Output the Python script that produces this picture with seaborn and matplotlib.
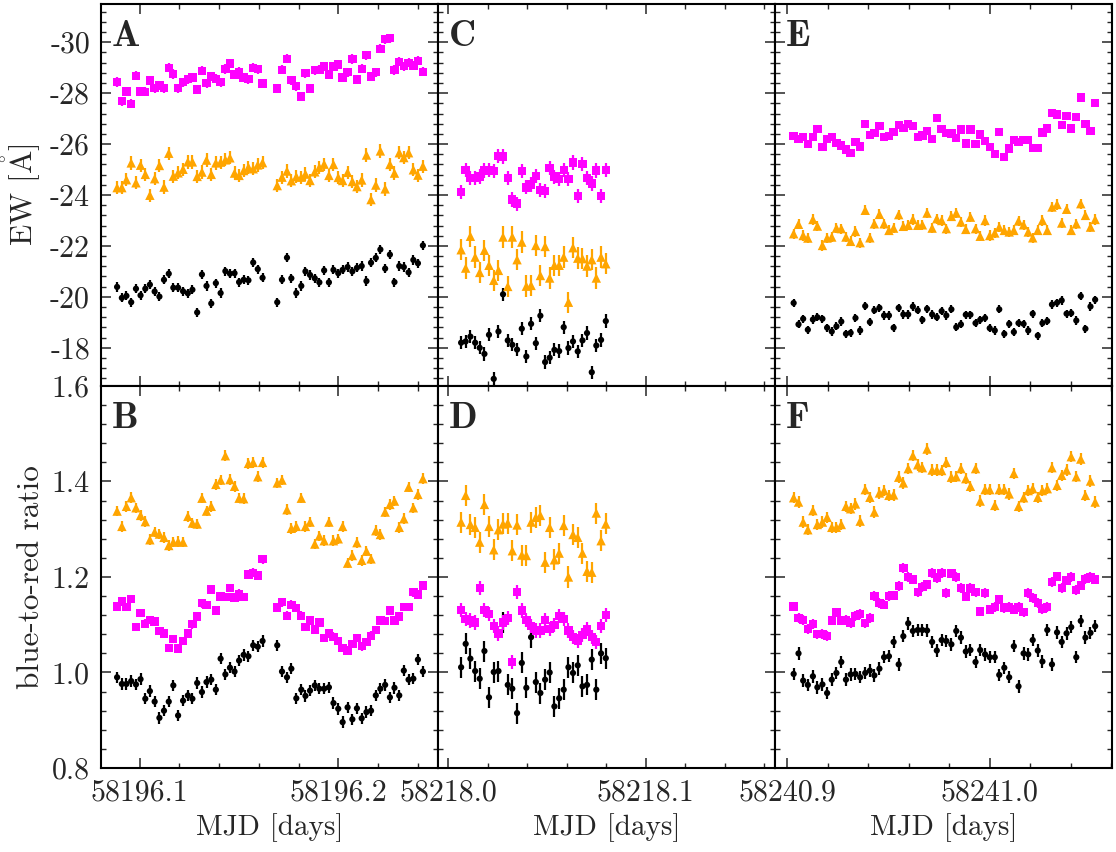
import matplotlib
matplotlib.use("Agg")
import matplotlib.pyplot as plt
import numpy as np
import pandas as pd
import seaborn as sns
from matplotlib.ticker import MultipleLocator, AutoMinorLocator, FormatStrFormatter

# ---------------- data ----------------
t_A = [58196.0887, 58196.0911, 58196.0934, 58196.0958, 58196.0982, 58196.1005, 58196.1029, 58196.1052,
       58196.1076, 58196.1100, 58196.1123, 58196.1147, 58196.1170, 58196.1194, 58196.1219, 58196.1243,
       58196.1266, 58196.1290, 58196.1314, 58196.1337, 58196.1361, 58196.1384, 58196.1408, 58196.1432,
       58196.1455, 58196.1478, 58196.1501, 58196.1524, 58196.1548, 58196.1572, 58196.1595, 58196.1619,
       58196.1693, 58196.1717, 58196.1742, 58196.1764, 58196.1789, 58196.1814, 58196.1835, 58196.1858,
       58196.1882, 58196.1905, 58196.1929, 58196.1953, 58196.1976, 58196.2000, 58196.2022, 58196.2047,
       58196.2071, 58196.2094, 58196.2118, 58196.2142, 58196.2165, 58196.2189, 58196.2212, 58196.2236,
       58196.2260, 58196.2283, 58196.2307, 58196.2330, 58196.2354, 58196.2378, 58196.2401, 58196.2426]

t_C = [58218.0066, 58218.0089, 58218.0113, 58218.0137, 58218.0160, 58218.0184, 58218.0207, 58218.0231,
       58218.0255, 58218.0278, 58218.0302, 58218.0325, 58218.0349, 58218.0373, 58218.0396, 58218.0420,
       58218.0444, 58218.0467, 58218.0491, 58218.0514, 58218.0538, 58218.0562, 58218.0585, 58218.0609,
       58218.0632, 58218.0656, 58218.0680, 58218.0703, 58218.0727, 58218.0750, 58218.0774, 58218.0798]

t_E = [58240.9033, 58240.9057, 58240.9080, 58240.9103, 58240.9128, 58240.9150, 58240.9175, 58240.9198,
       58240.9221, 58240.9244, 58240.9268, 58240.9291, 58240.9314, 58240.9338, 58240.9361, 58240.9386,
       58240.9409, 58240.9431, 58240.9456, 58240.9479, 58240.9503, 58240.9526, 58240.9551, 58240.9574,
       58240.9598, 58240.9621, 58240.9645, 58240.9668, 58240.9691, 58240.9716, 58240.9739, 58240.9763,
       58240.9786, 58240.9811, 58240.9835, 58240.9858, 58240.9882, 58240.9905, 58240.9930, 58240.9953,
       58240.9977, 58241.0000, 58241.0025, 58241.0047, 58241.0072, 58241.0096, 58241.0119, 58241.0142,
       58241.0167, 58241.0190, 58241.0212, 58241.0237, 58241.0260, 58241.0284, 58241.0307, 58241.0332,
       58241.0355, 58241.0379, 58241.0402, 58241.0427, 58241.0449, 58241.0472, 58241.0497, 58241.0520]

# Panel A: EW
ew_A_mag = [-28.44, -27.68, -28.06, -27.58, -28.68, -28.06, -28.05, -28.49, -28.19, -28.30, -28.19, -29.00,
            -28.75, -28.19, -28.43, -28.55, -28.61, -28.14, -28.88, -28.39, -28.66, -28.56, -28.43, -28.95,
            -29.16, -28.73, -28.84, -28.62, -28.55, -29.00, -28.94, -28.38,
            -28.18, -28.92, -29.35, -28.51, -28.27, -27.87, -28.78, -28.18, -28.90, -28.92, -29.04, -28.73,
            -29.04, -29.12, -28.61, -28.82, -29.34, -28.53, -28.96, -29.49, -28.65, -28.82, -29.74, -30.12,
            -30.16, -28.91, -29.23, -29.06, -29.19, -29.08, -29.27, -28.84]
ew_A_ora = [-24.29, -24.29, -24.60, -25.26, -24.48, -25.17, -24.81, -23.99, -24.64, -25.16, -24.31, -25.64,
            -24.74, -24.87, -25.01, -25.30, -25.30, -24.73, -24.90, -25.37, -24.81, -25.26, -25.29, -25.38,
            -25.46, -24.86, -24.77, -24.96, -25.09, -25.03, -25.18, -25.27,
            -24.37, -24.70, -24.94, -24.56, -24.72, -24.70, -24.82, -24.57, -24.91, -25.09, -25.21, -24.77,
            -25.20, -24.69, -24.57, -24.89, -24.53, -24.33, -24.59, -25.57, -23.82, -24.39, -25.73, -24.24,
            -25.20, -24.86, -25.66, -25.47, -25.66, -24.99, -24.78, -25.13]
ew_A_blk = [-20.39, -19.96, -20.04, -19.79, -20.32, -20.06, -20.32, -20.48, -20.21, -20.01, -20.67, -20.91,
            -20.36, -20.36, -20.22, -20.14, -20.28, -19.39, -20.88, -20.43, -19.74, -20.54, -20.15, -21.01,
            -20.91, -20.93, -20.58, -20.67, -20.65, -21.35, -21.09, -20.75,
            -19.79, -20.67, -21.54, -20.73, -20.15, -20.43, -21.00, -20.86, -20.73, -20.57, -21.04, -20.57,
            -21.06, -20.93, -21.06, -21.17, -21.00, -21.14, -21.21, -20.62, -21.34, -21.53, -21.86, -21.11,
            -21.66, -20.58, -21.21, -21.17, -20.96, -21.45, -21.32, -22.02]

# Panel B: blue-to-red ratio
br_B_ora = [1.338, 1.306, 1.348, 1.366, 1.345, 1.329, 1.316, 1.278, 1.294, 1.290, 1.283, 1.266, 1.273, 1.274,
            1.273, 1.327, 1.313, 1.311, 1.365, 1.338, 1.348, 1.394, 1.403, 1.454, 1.404, 1.390, 1.365, 1.364,
            1.438, 1.440, 1.410, 1.440,
            1.397, 1.403, 1.341, 1.302, 1.306, 1.365, 1.306, 1.315, 1.269, 1.286, 1.276, 1.315, 1.276, 1.280,
            1.306, 1.229, 1.245, 1.272, 1.235, 1.254, 1.238, 1.297, 1.289, 1.336, 1.352, 1.359, 1.304, 1.322,
            1.388, 1.345, 1.373, 1.406]
br_B_mag = [1.138, 1.149, 1.137, 1.154, 1.095, 1.125, 1.102, 1.110, 1.107, 1.087, 1.082, 1.051, 1.070, 1.050,
            1.066, 1.082, 1.101, 1.117, 1.145, 1.141, 1.174, 1.130, 1.159, 1.158, 1.177, 1.157, 1.165, 1.158,
            1.205, 1.209, 1.203, 1.237,
            1.136, 1.147, 1.119, 1.142, 1.135, 1.119, 1.095, 1.109, 1.090, 1.105, 1.072, 1.082, 1.075, 1.066,
            1.051, 1.046, 1.060, 1.072, 1.055, 1.064, 1.077, 1.089, 1.109, 1.108, 1.130, 1.109, 1.117, 1.137,
            1.137, 1.168, 1.163, 1.182]
br_B_blk = [0.990, 0.976, 0.976, 0.982, 0.975, 0.986, 0.945, 0.961, 0.939, 0.905, 0.920, 0.939, 0.973, 0.910,
            0.941, 0.952, 0.945, 0.978, 0.959, 0.980, 0.985, 0.964, 1.029, 0.996, 1.010, 1.002, 1.025, 1.037,
            1.034, 1.057, 1.054, 1.066,
            1.057, 1.002, 0.990, 1.008, 0.946, 0.964, 0.951, 0.962, 0.973, 0.966, 0.966, 0.969, 0.936, 0.924,
            0.896, 0.927, 0.902, 0.925, 0.904, 0.917, 0.920, 0.952, 0.966, 0.974, 0.948, 0.968, 0.952, 1.004,
            0.985, 0.987, 1.027, 1.002]

# Panel C: EW
ew_C_mag = [-24.12, -24.97, -24.67, -24.67, -24.73, -24.96, -24.97, -24.93, -25.53, -25.51, -24.67, -23.82,
            -23.66, -24.94, -24.30, -24.41, -24.75, -24.20, -24.16, -25.06, -24.72, -24.64, -24.98, -24.63,
            -25.28, -23.96, -25.23, -24.67, -24.45, -24.96, -23.96, -24.98]
ew_C_ora = [-21.85, -21.13, -22.38, -21.56, -20.96, -21.83, -21.24, -20.65, -21.04, -22.35, -20.41, -22.35,
            -21.46, -22.15, -20.42, -20.45, -22.02, -20.84, -21.98, -20.74, -21.24, -21.24, -21.56, -19.79,
            -21.93, -21.52, -21.50, -21.21, -21.46, -20.74, -21.56, -21.30]
ew_C_blk = [-18.20, -18.25, -18.44, -18.20, -18.00, -17.76, -18.51, -16.78, -18.64, -20.10, -18.29, -18.12,
            -17.93, -18.75, -17.66, -18.94, -18.18, -19.26, -17.44, -17.61, -17.92, -17.87, -18.81, -17.99,
            -18.25, -17.86, -18.29, -18.58, -17.04, -18.09, -18.31, -19.05]

# Panel D: blue-to-red ratio
br_D_ora = [1.315, 1.371, 1.310, 1.304, 1.273, 1.352, 1.306, 1.257, 1.299, 1.311, 1.313, 1.255, 1.309, 1.246,
            1.245, 1.315, 1.325, 1.329, 1.231, 1.304, 1.236, 1.250, 1.308, 1.200, 1.289, 1.283, 1.250, 1.212,
            1.210, 1.334, 1.276, 1.311]
br_D_mag = [1.131, 1.112, 1.109, 1.105, 1.177, 1.131, 1.123, 1.097, 1.082, 1.105, 1.114, 1.022, 1.168, 1.130,
            1.110, 1.097, 1.088, 1.088, 1.110, 1.091, 1.100, 1.119, 1.112, 1.088, 1.074, 1.066, 1.079, 1.091,
            1.074, 1.064, 1.098, 1.121]
br_D_blk = [1.011, 1.060, 1.029, 1.003, 0.987, 1.045, 0.948, 1.001, 1.003, 1.105, 0.974, 0.966, 0.915, 1.020,
            0.968, 1.074, 0.980, 0.957, 0.985, 1.000, 0.929, 0.946, 0.964, 1.011, 0.999, 1.015, 0.971, 0.974,
            1.027, 0.964, 1.040, 1.030]

# Panel E: EW
ew_E_mag = [-26.31, -26.20, -26.28, -25.99, -26.28, -26.58, -25.89, -26.20, -26.28, -26.04, -25.95, -25.79,
            -25.65, -26.08, -25.91, -26.80, -26.36, -26.44, -26.70, -26.28, -26.32, -26.48, -26.74, -26.63,
            -26.80, -26.71, -26.28, -26.34, -26.52, -26.20, -27.03, -26.58, -26.44, -26.41, -26.24, -26.57,
            -26.02, -26.57, -25.99, -26.37, -26.11, -25.89, -25.62, -26.48, -25.49, -25.82, -26.17, -26.08,
            -26.15, -26.17, -25.85, -25.85, -26.45, -26.61, -27.22, -27.16, -26.74, -27.10, -26.61, -27.07,
            -27.83, -26.80, -26.52, -27.62]
ew_E_ora = [-22.48, -22.85, -22.41, -22.31, -23.04, -22.78, -22.02, -22.31, -22.35, -22.70, -22.68, -22.35,
            -22.18, -22.57, -22.13, -23.40, -22.32, -22.87, -23.24, -22.87, -22.61, -22.70, -23.23, -22.77,
            -22.81, -23.04, -22.81, -22.83, -23.29, -22.70, -23.07, -23.00, -22.68, -23.16, -23.29, -22.94,
            -22.65, -23.13, -22.68, -22.38, -23.00, -22.41, -22.51, -22.74, -22.61, -22.55, -22.61, -22.98,
            -22.83, -22.55, -22.32, -22.61, -23.00, -22.61, -23.53, -23.63, -22.90, -23.44, -22.61, -22.87,
            -23.66, -23.20, -22.74, -23.04]
ew_E_blk = [-19.76, -18.92, -19.14, -18.71, -19.11, -19.20, -19.14, -18.79, -18.64, -18.84, -19.03, -18.55,
            -18.59, -19.17, -18.68, -19.64, -19.01, -19.47, -19.57, -19.27, -19.27, -18.79, -19.57, -19.31,
            -19.31, -19.62, -19.47, -19.10, -19.53, -19.31, -19.20, -19.44, -19.27, -19.51, -18.81, -18.92,
            -19.30, -19.30, -18.97, -19.10, -19.17, -18.77, -18.68, -19.51, -18.55, -18.94, -18.62, -18.97,
            -18.94, -18.68, -19.34, -18.48, -18.97, -19.05, -19.70, -19.77, -19.86, -19.34, -19.36, -19.07,
            -20.03, -18.75, -19.62, -19.89]

# Panel F: blue-to-red ratio
br_F_ora = [1.366, 1.357, 1.315, 1.299, 1.339, 1.310, 1.315, 1.325, 1.304, 1.304, 1.310, 1.348, 1.343, 1.353,
            1.317, 1.383, 1.367, 1.336, 1.376, 1.381, 1.371, 1.372, 1.409, 1.397, 1.427, 1.454, 1.435, 1.429,
            1.468, 1.424, 1.424, 1.423, 1.440, 1.409, 1.410, 1.427, 1.406, 1.390, 1.427, 1.359, 1.383, 1.383,
            1.350, 1.383, 1.383, 1.374, 1.417, 1.348, 1.366, 1.381, 1.385, 1.367, 1.381, 1.385, 1.429, 1.392,
            1.413, 1.424, 1.452, 1.410, 1.447, 1.371, 1.401, 1.357]
br_F_mag = [1.138, 1.114, 1.110, 1.091, 1.102, 1.080, 1.081, 1.077, 1.109, 1.126, 1.109, 1.110, 1.104, 1.118,
            1.123, 1.103, 1.114, 1.160, 1.145, 1.142, 1.160, 1.161, 1.181, 1.219, 1.200, 1.195, 1.168, 1.179,
            1.184, 1.208, 1.198, 1.208, 1.167, 1.207, 1.200, 1.177, 1.159, 1.177, 1.168, 1.128, 1.167, 1.132,
            1.137, 1.153, 1.135, 1.137, 1.132, 1.137, 1.126, 1.167, 1.156, 1.146, 1.133, 1.137, 1.189, 1.201,
            1.177, 1.193, 1.200, 1.173, 1.182, 1.196, 1.200, 1.195]
br_F_blk = [0.997, 1.040, 0.983, 0.974, 0.992, 0.969, 0.975, 0.957, 0.985, 0.999, 1.022, 0.985, 0.996, 0.997,
            0.990, 0.999, 1.004, 0.994, 1.008, 1.032, 1.034, 1.064, 1.017, 1.076, 1.103, 1.087, 1.089, 1.089,
            1.088, 1.064, 1.046, 1.068, 1.066, 1.059, 1.087, 1.073, 1.044, 1.047, 1.022, 1.047, 1.038, 1.032,
            1.032, 0.995, 1.010, 0.990, 1.055, 0.971, 1.040, 1.038, 1.068, 1.046, 1.023, 1.089, 1.017, 1.084,
            1.064, 1.082, 1.095, 1.032, 1.108, 1.073, 1.083, 1.097]

# typical error bars (magenta, orange, black)
err_A = [0.18, 0.26, 0.18]
err_B = [0.009, 0.011, 0.012]
err_C = [0.28, 0.42, 0.26]
err_D = [0.015, 0.022, 0.022]
err_E = [0.15, 0.20, 0.16]
err_F = [0.010, 0.012, 0.013]

series_names = ["magenta line", "orange line", "black line"]
series_colors = ["#ff00ff", "#ffa500", "#000000"]
series_markers = ["s", "^", "o"]
series_sizes = [36, 46, 20]

# ---------------- style ----------------
sns.set_style("ticks")
plt.rcParams.update({
    "font.family": ["cmr10", "DejaVu Serif"],
    "mathtext.fontset": "cm",
    "axes.unicode_minus": False,
    "axes.formatter.use_mathtext": True,
    "font.size": 21,
    "axes.linewidth": 1.5,
    "axes.edgecolor": "black",
})

fig, axes = plt.subplots(2, 3, figsize=(11.16, 8.52), dpi=100, sharex="col", sharey="row")
fig.subplots_adjust(left=0.0905, right=0.9964, top=0.9953, bottom=0.0986, wspace=0, hspace=0)

panels = [
    (axes[0, 0], t_A, [ew_A_mag, ew_A_ora, ew_A_blk], err_A, "A"),
    (axes[1, 0], t_A, [br_B_mag, br_B_ora, br_B_blk], err_B, "B"),
    (axes[0, 1], t_C, [ew_C_mag, ew_C_ora, ew_C_blk], err_C, "C"),
    (axes[1, 1], t_C, [br_D_mag, br_D_ora, br_D_blk], err_D, "D"),
    (axes[0, 2], t_E, [ew_E_mag, ew_E_ora, ew_E_blk], err_E, "E"),
    (axes[1, 2], t_E, [br_F_mag, br_F_ora, br_F_blk], err_F, "F"),
]

for ax, t, vals, errs, letter in panels:
    for i in [2, 1, 0]:
        assert len(vals[i]) == len(t), (letter, i, len(vals[i]), len(t))
        df = pd.DataFrame({"MJD": t, "value": vals[i], "series": series_names[i]})
        ax.errorbar(df["MJD"], df["value"], yerr=errs[i], fmt="none",
                    ecolor=series_colors[i], elinewidth=1.6, capsize=0, zorder=2 + (2 - i))
        sns.scatterplot(data=df, x="MJD", y="value", color=series_colors[i],
                        marker=series_markers[i], s=series_sizes[i], linewidth=0,
                        edgecolor="none", legend=False, ax=ax, zorder=3 + (2 - i))
    ax.text(0.033, 0.958, letter, transform=ax.transAxes, fontfamily="cmb10",
            fontsize=27, ha="left", va="top")
    ax.set_xlabel("")
    ax.set_ylabel("")

xlims = [(58196.0806, 58196.2502), (58217.9949, 58218.1654), (58240.8941, 58241.0603)]
for j in range(3):
    for i in range(2):
        ax = axes[i, j]
        ax.set_xlim(*xlims[j])
        ax.xaxis.set_major_locator(MultipleLocator(0.1))
        ax.xaxis.set_minor_locator(AutoMinorLocator(5))
        ax.xaxis.set_major_formatter(FormatStrFormatter("%.1f"))
        ax.tick_params(which="both", direction="in", top=True, right=True, labelsize=21.5)
        ax.tick_params(which="major", length=7, width=1.1, pad=8)
        ax.tick_params(which="minor", length=3.5, width=1.0)
        for sp in ax.spines.values():
            sp.set_linewidth(1.5)
    axes[1, j].set_xlabel("MJD [days]", fontsize=21, labelpad=5)
    axes[0, j].tick_params(labelbottom=False)

axes[0, 0].set_ylim(-16.5, -31.5)
axes[0, 0].yaxis.set_major_locator(MultipleLocator(2))
axes[0, 0].yaxis.set_minor_locator(AutoMinorLocator(5))
axes[0, 0].yaxis.set_major_formatter(FormatStrFormatter("%d"))
axes[1, 0].set_ylim(0.8, 1.6)
axes[1, 0].yaxis.set_major_locator(MultipleLocator(0.2))
axes[1, 0].yaxis.set_minor_locator(AutoMinorLocator(5))
axes[1, 0].yaxis.set_major_formatter(FormatStrFormatter("%.1f"))

axes[0, 0].set_ylabel(r"EW [$\mathring{\mathrm{A}}$]", fontsize=22.5, labelpad=5)
axes[1, 0].set_ylabel("blue-to-red ratio", fontsize=22.5, labelpad=5)

fig.savefig("out.png", dpi=100, facecolor="white")
